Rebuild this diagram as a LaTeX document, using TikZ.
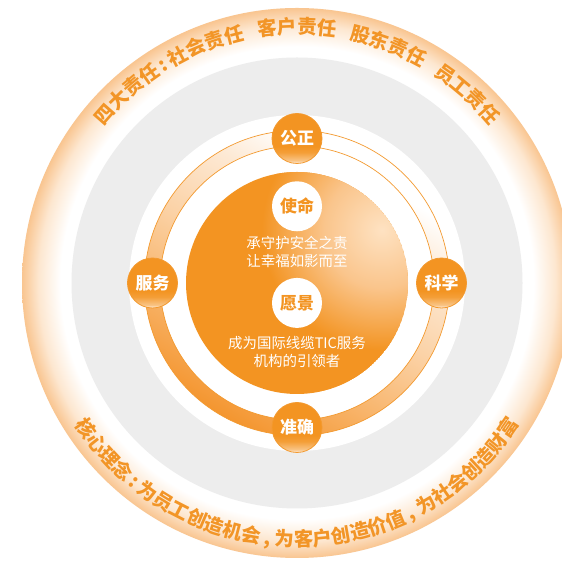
\documentclass[tikz,border=0pt]{standalone}
\usepackage{fontspec}
\usepackage{xcolor}
\usepackage{tikz}
\usetikzlibrary{decorations.text}
\newfontfamily\cjk{Noto Sans CJK SC}
\definecolor{tuvorange}{HTML}{F39422}
\definecolor{textorange}{HTML}{F29527}
\definecolor{ringgrey}{HTML}{EDEDED}
\definecolor{glowedge}{HTML}{F9C590}
\definecolor{glowmid}{HTML}{FDE7D0}
\definecolor{bandpale}{HTML}{FDE9D4}
\definecolor{bandlight}{HTML}{FBD2A6}
\definecolor{bandmid}{HTML}{F8B56C}
\definecolor{banddark}{HTML}{F49630}
\definecolor{knobline}{HTML}{F39A30}
\definecolor{knobpale}{HTML}{FFF4E8}
\definecolor{diskpeach}{HTML}{FAC58C}
\definecolor{diskglow}{HTML}{FEE2C2}
% pgf maps the central 50bp of a shading onto the path
\pgfdeclareradialshading{outerglow}{\pgfpoint{0bp}{0bp}}{color(0bp)=(white); color(21.5bp)=(white); color(23.5bp)=(glowmid); color(25bp)=(glowedge); color(50bp)=(glowedge)}
\pgfdeclareverticalshading{bandshade}{100bp}{color(0bp)=(banddark); color(25bp)=(banddark); color(37.5bp)=(bandmid); color(50bp)=(bandlight); color(62.5bp)=(bandpale); color(71bp)=(white); color(100bp)=(white)}
\pgfdeclareverticalshading{knobshade}{100bp}{color(0bp)=(knobpale); color(25bp)=(knobpale); color(28bp)=(knobpale!50!tuvorange); color(36bp)=(tuvorange!90!white); color(42bp)=(tuvorange); color(100bp)=(tuvorange)}
\pgfdeclareradialshading{glint}{\pgfpoint{0bp}{0bp}}{color(0bp)=(diskglow); color(12bp)=(diskpeach); color(25bp)=(tuvorange); color(50bp)=(tuvorange)}
\newcommand\ringfont{\cjk\bfseries\fontsize{19.5}{19.5}\selectfont\color{textorange}}
\tikzset{
  knob/.style={circle, draw=knobline, line width=0.8bp, shade, shading=knobshade,
               minimum size=50bp, inner sep=0pt, text=white,
               font=\cjk\bfseries\fontsize{17}{17}\selectfont},
  badge/.style={circle, fill=white, minimum size=50bp, inner sep=0pt, text=tuvorange,
                font=\cjk\bfseries\fontsize{17}{17}\selectfont},
  motto/.style={align=center, text=white, font=\cjk\fontsize{14.5}{18.5}\selectfont},
  bandline/.style={draw=knobline, line width=0.7bp},
  ringtext/.style={decorate, decoration={text along path, text align=center,
                   text={|\ringfont|#1}}}
}
\begin{document}
\begin{tikzpicture}[x=1bp,y=1bp]
  \fill[white] (0,0) rectangle (562,562);
  \useasboundingbox (0,0) rectangle (562,562);
  \coordinate (c) at (297,279);
  % rings
  \shade[shading=outerglow] (c) circle[radius=275];
  \fill[ringgrey] (c) circle[radius=225.5];
  \fill[white] (c) circle[radius=168];
  \shade[shading=bandshade, shading angle=-30, even odd rule]
    (c) circle[radius=152.5] (c) circle[radius=137];
  \draw[bandline] (c) circle[radius=152.5] (c) circle[radius=137];
  % core disk
  \begin{scope}
    \clip (c) circle[radius=111];
    \fill[tuvorange] (c) circle[radius=111];
    \shade[shading=glint] ([shift={(32:100)}]c) circle[radius=120];
  \end{scope}
  % ring texts
  \path[ringtext={四大责任{\kern.15em}:{\kern.2em}社会责任{\kern.7em}客户责任{\kern.7em}股东责任{\kern.7em}员工责任}]
    ([shift={(180:249)}]c) arc[start angle=180, end angle=0, radius=249];
  \path[ringtext={核心理念{\kern.15em}:{\kern.2em}为员工创造机会{\kern.2em},{\kern.25em}为客户创造价值{\kern.2em},{\kern.25em}为社会创造财富}]
    ([shift={(180:263.5)}]c) arc[start angle=180, end angle=360, radius=263.5];
  % values
  \node[knob] (fair) at ([shift={(90:144.5)}]c) {公正};
  \node[knob] (science) at ([shift={(0:144.5)}]c) {科学};
  \node[knob] (service) at ([shift={(180:144.5)}]c) {服务};
  \node[knob] (accurate) at ([shift={(270:144.5)}]c) {准确};
  % mission and vision
  \node[badge] (mission) at ([yshift=77]c) {使命};
  \node[motto] (missiontext) at ([yshift=31]c) {承守护安全之责\\让幸福如影而至};
  \node[badge] (vision) at ([yshift=-20]c) {愿景};
  \node[motto] (visiontext) at ([yshift=-69.5]c) {成为国际线缆TIC服务\\机构的引领者};
\end{tikzpicture}
\end{document}
